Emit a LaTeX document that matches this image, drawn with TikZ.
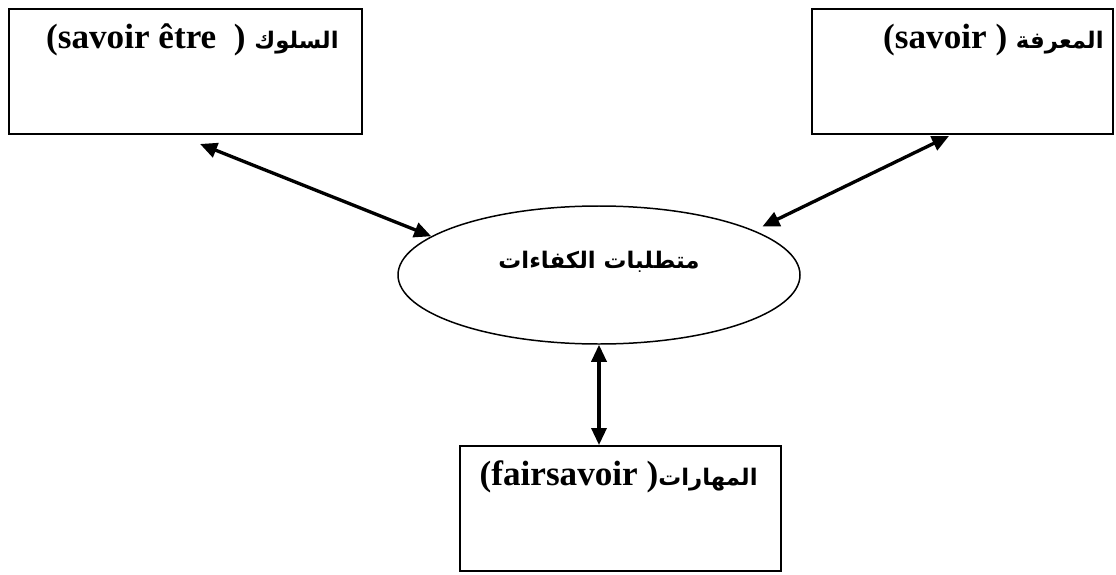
\documentclass[tikz,border=0pt]{standalone}
\usepackage{fontspec}
\setmainfont{Liberation Serif}
\newfontfamily\arabicfont[Script=Arabic]{DejaVu Sans}
\TeXXeTstate=1
\usetikzlibrary{shapes.geometric,arrows.meta}
\newcommand{\artxt}[1]{{\arabicfont\bfseries\fontsize{13}{16}\selectfont\beginR #1\endR}}
\tikzset{
  box/.style={draw, line width=1.1pt, minimum height=2.5cm, inner sep=0pt},
  oval/.style={draw, ellipse, line width=0.85pt, minimum width=8.04cm, minimum height=2.76cm, inner sep=0pt},
  boxtext/.style={inner sep=0pt, font=\fontsize{20}{24}\selectfont\bfseries},
  link/.style={line width=1.9pt, {Triangle[length=0.34cm,width=0.3cm]}-{Triangle[length=0.34cm,width=0.3cm]}},
}
\begin{document}
\begin{tikzpicture}
\useasboundingbox (0,0) rectangle (22.32,11.48);
\node[box, minimum width=7.06cm] (lbox) at (3.71,10.05) {};
\node[box, minimum width=6.02cm] (rbox) at (19.25,10.05) {};
\node[box, minimum width=6.42cm] (bbox) at (12.41,1.31) {};
\node[oval] (comp) at (11.98,5.98) {};
\node[boxtext, anchor=base] (ctext) at ([yshift=0.14cm]comp.center) {\artxt{متطلبات الكفاءات}};

\node[boxtext, anchor=base east] (ltext) at ([xshift=-0.48cm,yshift=-0.8cm]lbox.north east) {(savoir être~~) \artxt{السلوك}};
\node[boxtext, anchor=base east] (rtext) at ([xshift=-0.2cm,yshift=-0.8cm]rbox.north east) {(savoir ) \artxt{المعرفة}};
\node[boxtext, anchor=base east] (btext) at ([xshift=-0.48cm,yshift=-0.8cm]bbox.north east) {(fairsavoir )\artxt{المهارات}};

\coordinate (lfoot) at ([xshift=3.84cm,yshift=-0.18cm]lbox.south west);
\coordinate (rfoot) at ([xshift=2.76cm,yshift=-0.02cm]rbox.south west);
\draw[link] (lfoot) -- (comp.167);
\draw[link, shorten >=0.18cm] (rfoot) -- (comp.16);
\draw[link] (comp.south) -- (comp.south |- bbox.north);
\end{tikzpicture}
\end{document}
